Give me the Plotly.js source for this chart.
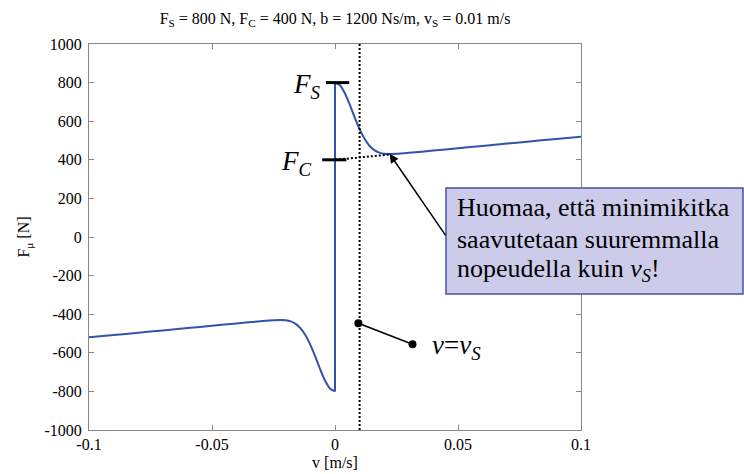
<!DOCTYPE html>
<html>
<head>
<meta charset="utf-8">
<script src="https://cdn.plot.ly/plotly-3.0.1.min.js"></script>
<style>.modebar-container, .modebar { display: none !important; }</style>
</head>
<body style="margin:0">
<div id="chart" style="width:744px;height:474px"></div>
<script>
// Negative-velocity branch
var vNeg = [-0.1, -0.09, -0.08, -0.07, -0.06, -0.05, -0.04, -0.03, -0.025, -0.022, -0.02, -0.018, -0.016, -0.014, -0.012, -0.01, -0.008, -0.006, -0.004, -0.002, 0];
var fNeg = [-520, -508, -496, -484, -472, -460, -448, -436, -431, -430, -431, -437, -450, -473, -509, -559, -620, -686, -745, -786, -800];
// Jump at v = 0
var vJump = [0, 0, 0];
var fJump = [-800, 0, 800];
// Positive-velocity branch
var vPos = [0, 0.002, 0.004, 0.006, 0.008, 0.01, 0.012, 0.014, 0.016, 0.018, 0.02, 0.022, 0.025, 0.03, 0.04, 0.05, 0.06, 0.07, 0.08, 0.09, 0.1];
var fPos = [800, 786, 745, 686, 620, 559, 509, 473, 450, 437, 431, 430, 431, 436, 448, 460, 472, 484, 496, 508, 520];

var xTickVals = [-0.1, -0.05, 0, 0.05, 0.1];
var xTickText = ['-0.1', '-0.05', '0', '0.05', '0.1'];
var yTickVals = [-1000, -800, -600, -400, -200, 0, 200, 400, 600, 800, 1000];
var yTickText = ['-1000', '-800', '-600', '-400', '-200', '0', '200', '400', '600', '800', '1000'];

var Fs = 800, Fc = 400, vs = 0.01;
var blue = '#3153ad';

var traces = [
  {x: vNeg, y: fNeg, mode: 'lines', line: {color: blue, width: 2, shape: 'spline', smoothing: 0.8}, showlegend: false, hoverinfo: 'skip'},
  {x: vJump, y: fJump, mode: 'lines', line: {color: blue, width: 2}, showlegend: false, hoverinfo: 'skip'},
  {x: vPos, y: fPos, mode: 'lines', line: {color: blue, width: 2, shape: 'spline', smoothing: 0.8}, showlegend: false, hoverinfo: 'skip'}
];

function px2paperX(p) { return (p - 89) / 492; }
function px2paperY(p) { return (430 - p) / 386; }

var layout = {
  width: 744, height: 474,
  margin: {l: 89, r: 163, t: 44, b: 44},
  paper_bgcolor: '#fff', plot_bgcolor: '#fff',
  title: {
    text: 'F<sub>S</sub> = 800 N, F<sub>C</sub> = 400 N, b = 1200 Ns/m, v<sub>S</sub> = 0.01 m/s',
    font: {family: 'Liberation Serif', size: 16, color: 'black'},
    x: 0.5, xref: 'paper', xanchor: 'center',
    y: 0.962, yref: 'container', yanchor: 'middle'
  },
  xaxis: {
    range: [-0.1, 0.1], tickvals: xTickVals, ticktext: xTickText,
    showgrid: false, zeroline: false, showline: true, mirror: 'ticks',
    linecolor: '#888', linewidth: 1, ticks: 'inside', ticklen: 5, tickcolor: '#888',
    tickfont: {family: 'Liberation Serif', size: 16, color: 'black'},
    title: {text: 'v [m/s]', font: {family: 'Liberation Serif', size: 16, color: 'black'}, standoff: 4}
  },
  yaxis: {
    range: [-1000, 1000], tickvals: yTickVals, ticktext: yTickText,
    showgrid: false, zeroline: false, showline: true, mirror: 'ticks',
    linecolor: '#888', linewidth: 1, ticks: 'inside', ticklen: 5, tickcolor: '#888',
    tickfont: {family: 'Liberation Serif', size: 16, color: 'black'},
    ticklabelstandoff: 3,
    title: {text: 'F<sub>\u03bc</sub> [N]', font: {family: 'Liberation Serif', size: 16, color: 'black'}, standoff: 10}
  },
  shapes: [
    {type: 'line', xref: 'x', yref: 'y', x0: vs, x1: vs, y0: -1000, y1: 1000, line: {color: '#000', width: 2, dash: '2px,2px'}},
    {type: 'line', xref: 'x', yref: 'y', x0: 0, x1: 0.022, y0: Fc, y1: 427, line: {color: '#000', width: 2, dash: '2px,2px'}},
    {type: 'line', xref: 'x', yref: 'y', x0: -0.0037, x1: 0.0058, y0: Fs, y1: Fs, line: {color: '#000', width: 3}},
    {type: 'line', xref: 'x', yref: 'y', x0: -0.0052, x1: 0.0046, y0: Fc, y1: Fc, line: {color: '#000', width: 3}},
    {type: 'line', xref: 'x', yref: 'y', x0: 0.0095, x1: 0.0315, y0: -447, y1: -556, line: {color: '#000', width: 1.5}},
    {type: 'circle', xref: 'x', yref: 'y', xsizemode: 'pixel', ysizemode: 'pixel', xanchor: 0.0095, yanchor: -447, x0: -4, x1: 4, y0: -4, y1: 4, fillcolor: '#000', line: {color: '#000', width: 0}},
    {type: 'circle', xref: 'x', yref: 'y', xsizemode: 'pixel', ysizemode: 'pixel', xanchor: 0.0315, yanchor: -556, x0: -4, x1: 4, y0: -4, y1: 4, fillcolor: '#000', line: {color: '#000', width: 0}},
    {type: 'rect', xref: 'paper', yref: 'paper', x0: px2paperX(446), x1: px2paperX(743), y0: px2paperY(294), y1: px2paperY(188), fillcolor: '#ccccea', line: {color: '#4a4f9e', width: 1.5}, layer: 'above'}
  ],
  annotations: [
    {xref: 'paper', yref: 'paper', x: px2paperX(323), y: px2paperY(86), xanchor: 'right', yanchor: 'middle', showarrow: false,
     text: '<i>F</i><sub><i>S</i></sub>', font: {family: 'Liberation Serif', size: 27, color: 'black'}},
    {xref: 'paper', yref: 'paper', x: px2paperX(314), y: px2paperY(163), xanchor: 'right', yanchor: 'middle', showarrow: false,
     text: '<i>F</i><sub><i>C</i></sub>', font: {family: 'Liberation Serif', size: 27, color: 'black'}},
    {xref: 'paper', yref: 'paper', x: px2paperX(430), y: px2paperY(347), xanchor: 'left', yanchor: 'middle', showarrow: false,
     text: '<i>v</i>=<i>v</i><sub><i>S</i></sub>', font: {family: 'Liberation Serif', size: 27, color: 'black'}},
    {xref: 'x', yref: 'y', x: 0.0222, y: 431, text: '', showarrow: true, arrowhead: 2, arrowsize: 1.2, arrowwidth: 1.5, arrowcolor: '#000',
     axref: 'pixel', ayref: 'pixel', ax: 57, ay: 83, standoff: 0},
    {xref: 'paper', yref: 'paper', x: px2paperX(455), y: px2paperY(208), xanchor: 'left', yanchor: 'middle', showarrow: false,
     text: 'Huomaa, ett\u00e4 minimikitka', font: {family: 'Liberation Serif', size: 26, color: 'black'}},
    {xref: 'paper', yref: 'paper', x: px2paperX(455), y: px2paperY(239), xanchor: 'left', yanchor: 'middle', showarrow: false,
     text: 'saavutetaan suuremmalla', font: {family: 'Liberation Serif', size: 26, color: 'black'}},
    {xref: 'paper', yref: 'paper', x: px2paperX(455), y: px2paperY(270), xanchor: 'left', yanchor: 'middle', showarrow: false,
     text: 'nopeudella kuin <i>v</i><sub><i>S</i></sub>!', font: {family: 'Liberation Serif', size: 26, color: 'black'}}
  ]
};

Plotly.newPlot('chart', traces, layout);
</script>
</body>
</html>
